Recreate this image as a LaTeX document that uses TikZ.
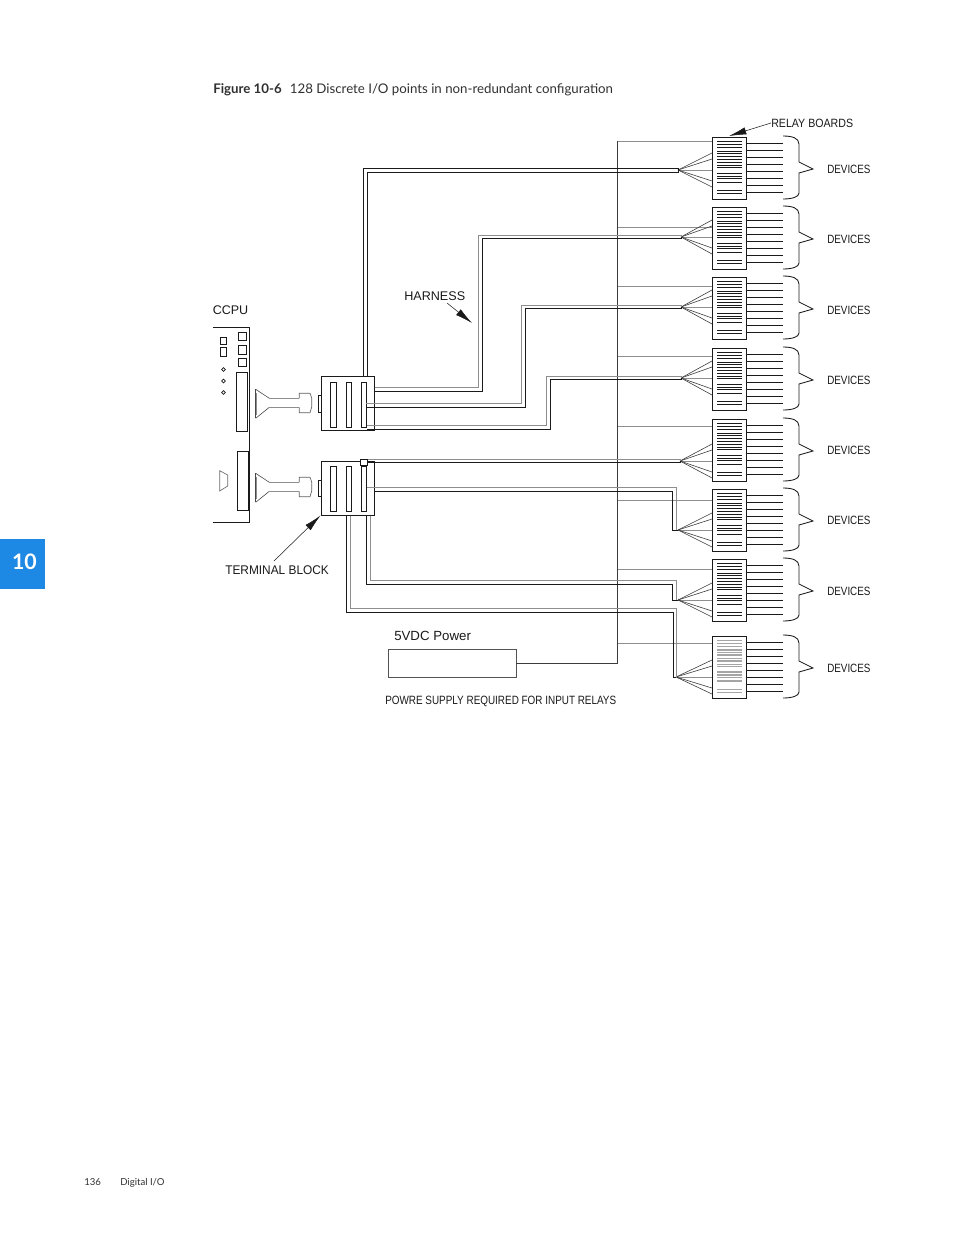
\documentclass[tikz,border=0pt]{standalone}
\usepackage{fontspec}
\usetikzlibrary{calc,arrows.meta}
\setmainfont{Liberation Sans}
\newfontfamily\narrowfont[FakeStretch=0.82]{Liberation Sans}
\newfontfamily\powfont[FakeStretch=0.826]{Liberation Sans}
\newfontfamily\midfont[FakeStretch=0.885]{Liberation Sans}
\newfontfamily\termfont[FakeStretch=0.943]{Liberation Sans}
\newfontfamily\capfont{Lato}
\definecolor{tabblue}{HTML}{1E88E5}
\definecolor{ink}{HTML}{1A1A1A}
\definecolor{soft}{HTML}{8E8E8E}
\definecolor{capink}{HTML}{303030}
\tikzset{
  wire/.style={draw=ink,line width=0.65pt},
  thin wire/.style={draw=ink!85,line width=0.45pt},
  soft wire/.style={draw=soft,line width=0.75pt},
  board/.style={draw=ink,line width=0.6pt,fill=white,inner sep=0pt,minimum width=25.5pt,minimum height=46.5pt,anchor=north west},
  block/.style={draw=ink,line width=0.6pt,fill=white,inner sep=0pt,minimum width=40pt,minimum height=41pt,anchor=north west},
  slot/.style={draw=ink,line width=0.6pt,inner sep=0pt,fill=white,anchor=north west},
  lbl/.style={font=\narrowfont\fontsize{9}{11}\selectfont,text=ink,inner sep=0pt},
  wlbl/.style={font=\fontsize{9.4}{12}\selectfont,text=ink,inner sep=0pt,anchor=west},
  callout/.style={draw=ink,line width=0.4pt,-{Latex[length=13pt,width=5.5pt]}},
}
\newcommand{\boardunit}[7]{%
  % #1 index, #2 top, #3 tip x, #4 tip y, #5 tap y, #6 style of the inner rows, #7 label y
  \node[board] (b#1) at (712,#2-0.5) {};
  \coordinate (tip#1) at (#3,#4);
  \draw[soft wire] (617.5,#5) -- (b#1.west |- 0,#5);
  \draw[thin wire] (tip#1) -- (712,#4-17);
  \draw[thin wire] (tip#1) -- (712,#4-11);
  \draw[soft wire] (tip#1) -- (712,#4);
  \draw[thin wire] (tip#1) -- (712,#4+11);
  \draw[thin wire] (tip#1) -- (712,#4+17);
  \foreach \o in {4.3,7.7,10.7,14,16.7,19,22.3,25,28.3,30.7,36,39,41.7,45,53.3,56.7}
    \draw[#6] (717,#2+\o) -- (742,#2+\o);
  \foreach \i in {0,...,7}
    \draw[wire] (b#1.north east |- 0,{#2+6.5+7*\i}) -- (783,{#2+6.5+7*\i});
  \draw[wire] (783,#2-1) .. controls (792,#2-1) and (799,#2+1) .. (799,#2+7)
     -- (799,#2+25) -- (813,#2+32) -- (799,#2+36) -- (799,#2+56)
     .. controls (799,#2+60) and (792,#2+62) .. (783,#2+62);
  \node[lbl,anchor=west] (dev#1) at (827,#7) {DEVICES};
}
\begin{document}
\begin{tikzpicture}[x=0.75pt,y=-0.75pt]
\useasboundingbox (0,0) rectangle (954,1235);
% page furniture
\fill[tabblue] (0,539) rectangle (45,589);
\node[font=\capfont\bfseries\fontsize{16}{18}\selectfont,text=white,inner sep=0pt] (tabnum) at (24.5,562) {10};
\node[font=\capfont\fontsize{9.95}{12}\selectfont,text=capink,inner sep=0pt,anchor=base west] (cap) at (213,93.2) {\textbf{Figure 10-6}\hspace{6.2pt}128 Discrete I/O points in non-redundant configuration};
\node[font=\capfont\fontsize{7.2}{9}\selectfont,text=capink,inner sep=0pt,anchor=base west] (pg) at (84,1185.2) {136};
\node[font=\capfont\fontsize{7.2}{9}\selectfont,text=capink,inner sep=0pt,anchor=base west] (sec) at (120,1185.2) {Digital I/O};

% power bus
\node[draw=ink!75,line width=0.4pt,inner sep=0pt,minimum width=95.5pt,minimum height=21.5pt,anchor=north west] (psu) at (388.3,648.7) {};
\coordinate (busTop) at (617.5,141);
\draw[thin wire] (busTop) -- (617.5,663.5) -- (psu.east |- 0,663.5);

% relay boards
\boardunit{1}{137}{678}{170}{141}{wire}{169}
\boardunit{2}{207}{681}{237}{227.5}{wire}{239}
\boardunit{3}{277}{681}{307}{286}{wire}{310}
\boardunit{4}{348}{681}{378}{356}{wire}{380}
\boardunit{5}{419}{680}{461}{426}{wire}{450}
\boardunit{6}{489}{678}{530}{500.5}{wire}{520}
\boardunit{7}{559}{678}{600}{569}{wire}{591}
\boardunit{8}{636}{676}{677}{643}{{draw=soft!80,line width=1.1pt}}{668}

% CCPU
\draw[wire] (213,327.5) -- (249.5,327.5) -- (249.5,522.5) -- (213,522.5);
\foreach \x/\y/\w/\h/\n in {220.2/336.7/6/7.5/a,220.2/347/6/9/b,238/331.5/7.5/8/c,238/345/7.5/8.5/d,238/357.5/7.5/8/e,236.3/372.3/10.4/59/f,237.3/451/10.4/59.3/g}
  \node[slot,minimum width=\w*0.75pt,minimum height=\h*0.75pt] (cc\n) at (\x,\y) {};
\foreach \y in {369.5,381,392.5}
  \draw[draw=ink,line width=0.55pt] (223.5,\y-1.8) -- (225.3,\y) -- (223.5,\y+1.8) -- (221.7,\y) -- cycle;
\draw[draw=ink!65,line width=0.5pt] (219.7,470.7) -- (227.7,475) -- (227.7,486) -- (219.7,491) -- cycle;

% cables
\foreach \d in {0,84}{
  \fill[soft] (254.7,393+\d) rectangle (256.5,414.5+\d);
  \draw[draw=ink!80,line width=0.45pt] (255.7,389.3+\d) -- (269.3,398.3+\d);
  \draw[draw=ink!80,line width=0.45pt] (255.7,418.3+\d) -- (269.3,407.3+\d);
  \draw[draw=ink!80,line width=0.45pt] (255.7,389.3+\d) -- (255.7,418.3+\d);
  \draw[draw=soft,line width=1pt] (269.3,398.3+\d) -- (299.3,398.3+\d);
  \draw[draw=soft,line width=1pt] (269.3,407.3+\d) -- (299.3,407.3+\d);
  \draw[draw=ink!70,line width=0.5pt] (299.3,398.3+\d) -- (299.3,393.3+\d) -- (310,393.3+\d) -- (311.7,398+\d) -- (311.7,407+\d) -- (310,412.7+\d) -- (299.3,412.7+\d) -- (299.3,407.3+\d);
}

% harnesses that run behind the blocks
\coordinate (h8g) at (350.5,514);
\coordinate (h8k) at (346.5,514);
\coordinate (h7g) at (370,514);
\coordinate (h7k) at (366.3,514);
\draw[soft wire] (h8g) |- (676.7,608) -- (676.7,677) -- (tip8);
\draw[wire] (h8k) |- (673,612.3) -- (673,677) -- (tip8);
\draw[soft wire] (h7g) |- (676.7,580.7) -- (676.7,600) -- (tip7);
\draw[wire] (h7k) |- (672,584.3) -- (672,600) -- (tip7);

% terminal blocks
\node[block] (tbA) at (321,375.5) {};
\node[block] (tbB) at (321,460.5) {};
\draw[wire] (tbA.west |- 0,395) -- (318,395) -- (318,412) -- (tbA.west |- 0,412);
\draw[wire] (tbB.west |- 0,480) -- (318,480) -- (318,496) -- (tbB.west |- 0,496);
\foreach \x/\w/\n in {330.2/5.3/1,346/5.4/2,360.8/5.3/3}{
  \node[slot,minimum width=\w*0.75pt,minimum height=44.2*0.75pt] (sa\n) at (\x,382.3) {};
  \node[slot,minimum width=\w*0.75pt,minimum height=44.7*0.75pt] (sb\n) at (\x,466) {};
}

% harnesses from the upper block
\draw[wire] (363,375.5) -- (363,168.3) -- (tip1 |- 0,168.3) -- (tip1);
\draw[wire] (367.3,375.5) -- (367.3,172.3) -- (tip1 |- 0,172.3) -- (tip1);
\draw[soft wire] (tbA.east |- 0,387.7) -- (478,387.7) -- (478,235.2) -- (tip2 |- 0,235.2) -- (tip2);
\draw[wire] (tbA.east |- 0,391.5) -- (482,391.5) -- (482,238.8) -- (tip2 |- 0,238.8) -- (tip2);
\draw[soft wire] (366.3,403.5) -- (521.5,403.5) -- (521.5,305.2) -- (tip3 |- 0,305.2) -- (tip3);
\draw[wire] (366.3,407.3) -- (525.5,407.3) -- (525.5,308.8) -- (tip3 |- 0,308.8) -- (tip3);
\draw[soft wire] (367,425) -- (546,425) -- (546,376.2) -- (tip4 |- 0,376.2) -- (tip4);
\draw[wire] (367,429.3) -- (550,429.3) -- (550,379.8) -- (tip4 |- 0,379.8) -- (tip4);

% harnesses from the lower block
\draw[soft wire] (361,459.2) -- (tip5 |- 0,459.2) -- (tip5);
\draw[wire] (367,462.8) -- (tip5 |- 0,462.8) -- (tip5);
\draw[wire,fill=white] (360,459.2) rectangle (367,465);
\draw[soft wire] (367,487.5) -- (676.7,487.5) -- (676.7,530) -- (tip6);
\draw[wire] (tbB.east |- 0,491.7) -- (672,491.7) -- (672,530) -- (tip6);

% callouts
\draw[callout] (771,123) -- (729,136);
\draw[callout] (447,303) -- (472,323);
\draw[callout] (274,561) -- (320.5,515.5);

% labels
\node[font=\midfont\fontsize{9}{11}\selectfont,text=ink,inner sep=0pt,anchor=west] (rb) at (771,123.5) {RELAY BOARDS};
\node[font=\fontsize{9.45}{12}\selectfont,text=ink,inner sep=0pt,anchor=west] (harn) at (404,296) {HARNESS};
\node[wlbl] (ccpu) at (212.5,310) {CCPU};
\node[font=\termfont\fontsize{9.45}{12}\selectfont,text=ink,inner sep=0pt,anchor=west] (term) at (225,570.5) {TERMINAL BLOCK};
\node[font=\fontsize{9.95}{12}\selectfont,text=ink,inner sep=0pt,anchor=west] (vdc) at (394,636) {5VDC Power};
\node[font=\powfont\fontsize{9}{11}\selectfont,text=ink,inner sep=0pt,anchor=west] (pow) at (385,701.5) {POWRE SUPPLY REQUIRED FOR INPUT RELAYS};
\end{tikzpicture}
\end{document}
